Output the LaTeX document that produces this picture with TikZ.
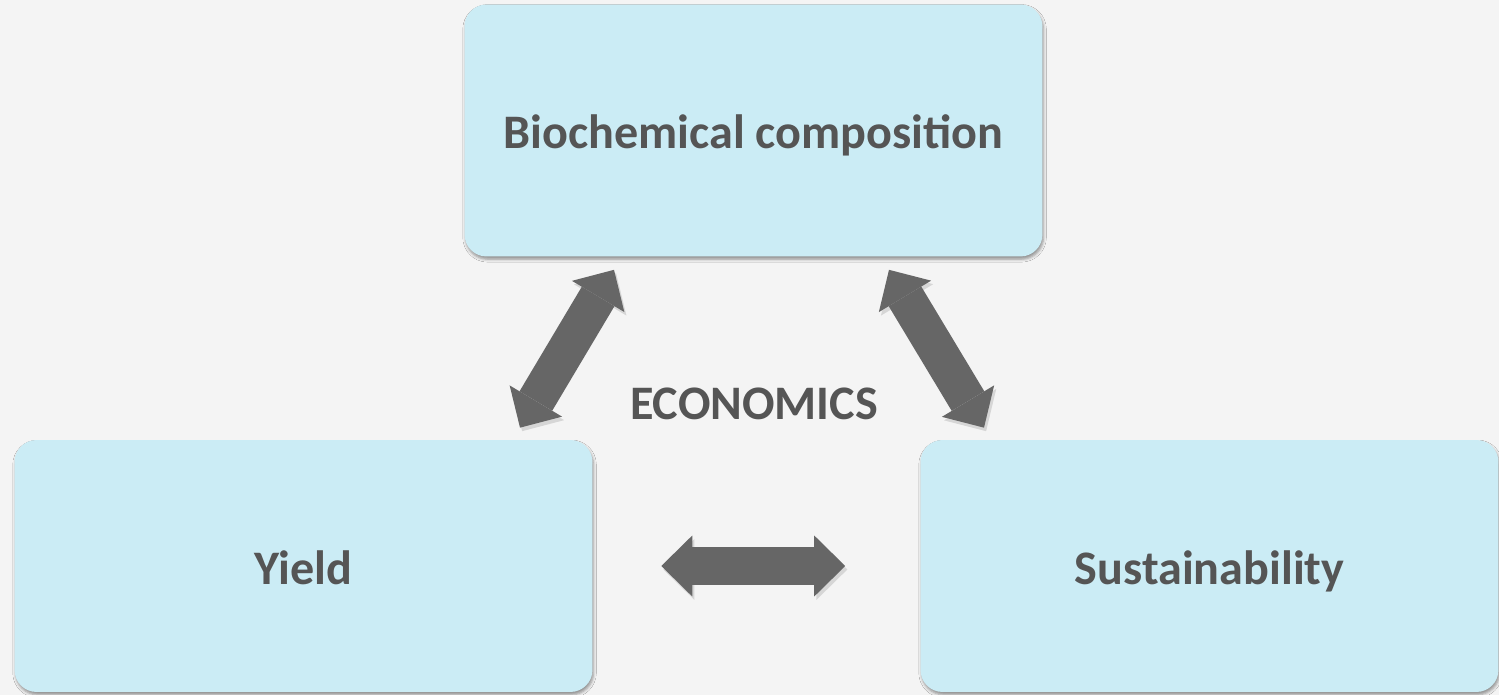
\documentclass[tikz,border=0pt]{standalone}
\usepackage{fontspec}
\setmainfont{Carlito}
\usepackage{xcolor}
\usetikzlibrary{arrows.meta,calc,shadows.blur}

\definecolor{bgray}{HTML}{F4F4F4}
\definecolor{boxblue}{HTML}{CBECF5}
\definecolor{txtgray}{HTML}{555555}
\definecolor{arrgray}{HTML}{666666}

\tikzset{
  label font/.style={text=txtgray, font=\fontsize{27.4}{32}\selectfont\bfseries},
  topic/.style={label font, fill=boxblue, rounded corners=0.44cm, minimum width=11.56cm,
    minimum height=5.04cm, text height=0.74cm, text depth=0pt,
    blur shadow={shadow xshift=0.6pt, shadow yshift=-1.6pt, shadow blur radius=1.6pt, shadow opacity=40}},
  link/.style={draw=arrgray, line width=0.76cm,
    {Triangle[length=0.62cm, width=1.22cm, line width=0pt]}-{Triangle[length=0.62cm, width=1.22cm, line width=0pt]},
    preaction={draw=black, opacity=0.12, transform canvas={shift={(1.2pt,-2pt)}}}}
}

\begin{document}
\begin{tikzpicture}[x=0.02cm,y=-0.02cm]
  \fill[bgray] (0,0) rectangle (1499,695);
  \useasboundingbox (0,0) rectangle (1499,695);
  \node[topic] (bio) at (753.5,130.5) {Biochemical composition};
  \node[topic] (yield) at (303.5,566) {Yield};
  \node[topic] (sust) at (1209.5,566) {Sustainability};
  \node[label font] (econ) at (754,404) {ECONOMICS};
  % arrows between the three topics
  \draw[link] ($(yield.north)+(216.5,-12)$) -- ($(bio.south)+(-139.5,13)$);
  \draw[link] ($(bio.south)+(135.5,13)$) -- ($(sust.north)+(-225.5,-12)$);
  \draw[link] ($(yield.east)+(68.5,0)$) -- ($(sust.west)+(-75,0)$);
\end{tikzpicture}
\end{document}
